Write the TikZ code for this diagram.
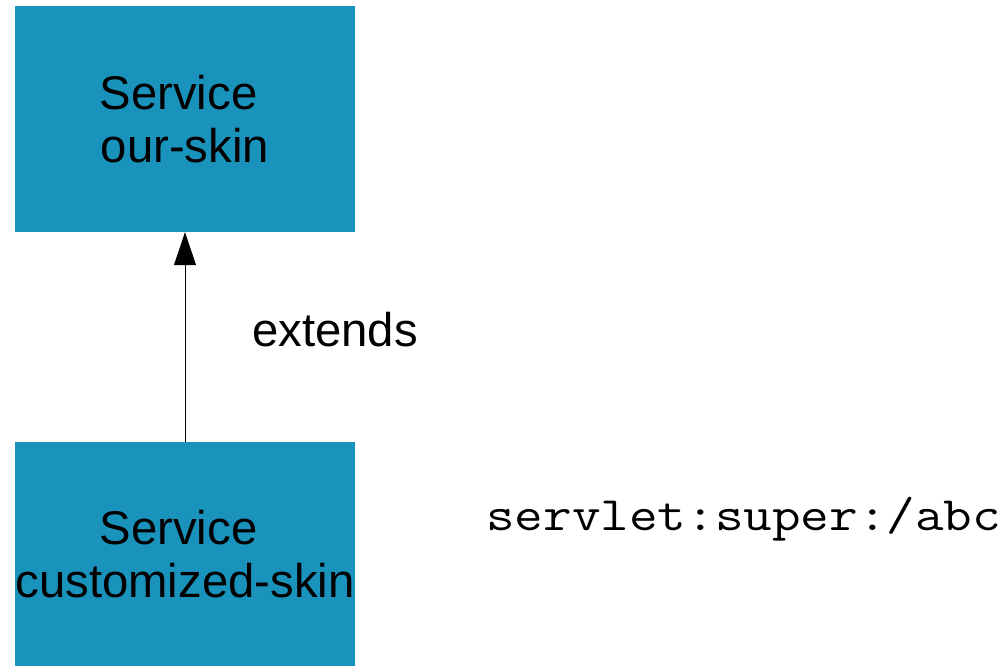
\documentclass[tikz,border=0pt]{standalone}
\usepackage{fontspec}
\setmainfont{Liberation Sans}
\usepackage{graphicx}
\usepackage{tikz}
\usetikzlibrary{arrows.meta,positioning}
\definecolor{skinblue}{HTML}{1A93BC}
\tikzset{
  servicebox/.style={fill=skinblue, draw=none, minimum width=340pt,
                     inner sep=0pt, align=center,
                     font=\fontsize{47.3}{53}\selectfont},
  extendsedge/.style={-{Triangle[length=33pt,width=22pt]}, line width=0.8pt},
  plainlabel/.style={inner sep=0pt, anchor=base west,
                     font=\fontsize{47.3}{53}\selectfont}
}

\begin{document}
\begin{tikzpicture}[x=1pt,y=-1pt]
  \useasboundingbox (0,0) rectangle (1004,666);
  \node[servicebox, minimum height=226pt] (ourskin) at (185,119)
    {Service\hspace*{13pt}\\our-skin};
  \node[servicebox, minimum height=224pt] (customskin) at (185,554)
    {Service\hspace*{13pt}\\customized-skin};
  \draw[extendsedge] (customskin.north) -- (ourskin.south);
  \node[plainlabel] (extends) at (252,346) {extends};
  \node[plainlabel, font=\fontsize{48}{53}\ttfamily] (servlet) at (486,530)
    {\scalebox{1.157}[1]{servlet:super:/abc}};
\end{tikzpicture}
\end{document}
